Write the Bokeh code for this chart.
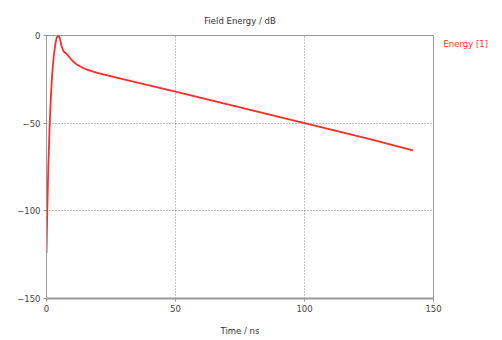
from bokeh.plotting import figure
from bokeh.models import FixedTicker, Range1d, LinearAxis
from bokeh.embed import file_html
from bokeh.resources import INLINE

time_ns = [0, 0.3, 0.7, 1.2, 1.7, 2.2, 2.8, 3.4, 4.0, 4.6, 5.2, 5.8, 6.6, 7.8,
           9.2, 10.5, 11.7, 13.5, 15.6, 20, 30, 50, 75, 100, 125, 142]
energy_db = [-124, -100, -75, -52, -35, -22, -12, -5, -1, 0, -1.5, -6, -9, -10.5,
             -13, -15, -16.5, -18, -19.5, -21.5, -25, -32, -41, -50, -59, -65.5]
x_ticks = [0, 50, 100, 150]
y_ticks = [-150, -100, -50, 0]
series_name = "Energy [1]"

FONT = "DejaVu Sans"
FS = "8.5px"

p = figure(width=494, height=338, output_backend="svg", toolbar_location=None,
           x_range=Range1d(0, 150), y_range=Range1d(-150, 0),
           title="Field Energy / dB",
           min_border_left=46, min_border_right=61, min_border_top=35, min_border_bottom=40)

p.title.align = "center"
p.title.text_font = FONT
p.title.text_font_size = FS
p.title.text_font_style = "normal"
p.title.text_color = "#333333"
p.title.standoff = 20

p.outline_line_color = "#999999"
p.outline_line_width = 1
p.background_fill_color = "white"
p.border_fill_color = "white"

r = p.line(time_ns, energy_db, line_color="#ff2a2a", line_width=1.8)

for ax in (p.xaxis[0], p.yaxis[0]):
    ax.major_label_text_font = FONT
    ax.major_label_text_font_size = FS
    ax.major_label_text_color = "#444444"
    ax.axis_line_color = "#999999"
    ax.major_tick_line_color = "#999999"
    ax.major_tick_in = 0
    ax.major_tick_out = 3
    ax.minor_tick_line_color = None
    ax.axis_label_text_font = FONT
    ax.axis_label_text_font_size = FS
    ax.axis_label_text_font_style = "normal"
    ax.axis_label_text_color = "#333333"
    ax.major_label_standoff = 3

p.xaxis.ticker = FixedTicker(ticks=x_ticks)
p.yaxis.ticker = FixedTicker(ticks=y_ticks)
p.xaxis.axis_line_width = 2
p.xaxis.axis_label = "Time / ns"
p.xaxis.axis_label_standoff = 11

p.xgrid.ticker = FixedTicker(ticks=[50, 100])
p.ygrid.ticker = FixedTicker(ticks=[-100, -50])
for g in (p.xgrid[0], p.ygrid[0]):
    g.grid_line_color = "#888888"
    g.grid_line_dash = "1 2"
    g.grid_line_width = 1

# series name shown at the right of the frame, as in the reference
name_axis = LinearAxis(ticker=FixedTicker(ticks=[-5]),
                       major_label_overrides={-5: series_name},
                       axis_line_color=None, major_tick_line_color=None,
                       minor_tick_line_color=None,
                       major_tick_in=0, major_tick_out=0, major_label_standoff=10,
                       major_label_text_color="#ff3030",
                       major_label_text_font=FONT, major_label_text_font_size=FS)
p.add_layout(name_axis, "right")

open("out.html", "w").write(file_html(p, INLINE))
